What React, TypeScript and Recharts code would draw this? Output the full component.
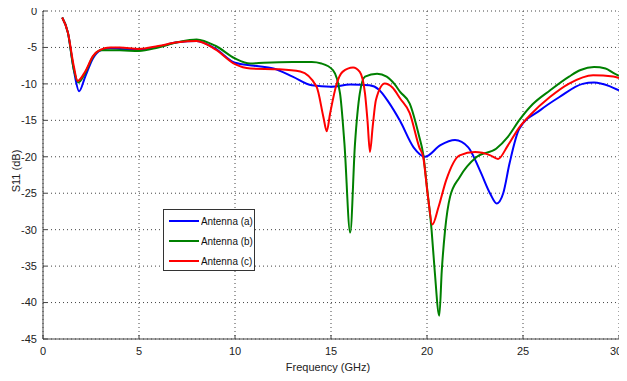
import React from 'react';
import { LineChart, Line, XAxis, YAxis, CartesianGrid, Label } from 'recharts';

const seriesNames = ['Antenna (a)', 'Antenna (b)', 'Antenna (c)'];
const seriesColors = ['#0000ff', '#008000', '#ff0000'];
const xTicks = [0, 5, 10, 15, 20, 25, 30];
const yTicks = [-45, -40, -35, -30, -25, -20, -15, -10, -5, 0];

const freqA = [1.0, 1.3, 1.6, 1.88, 2.2, 2.6, 3.0, 3.5, 4.0, 5.0, 6.0, 7.0, 8.0, 9.0, 10.0, 11.0, 12.0, 13.0, 14.0, 15.0, 16.0, 17.0, 17.5, 18.0, 18.6, 19.3, 19.9, 20.7, 21.46, 22.15, 22.76, 23.3, 23.63, 23.97, 24.3, 24.8, 25.9, 26.9, 28.1, 28.7, 29.5, 30.0];
const s11A = [-0.9, -3.0, -8.0, -11.0, -9.0, -6.5, -5.4, -5.1, -5.2, -5.3, -4.9, -4.3, -4.1, -5.2, -7.1, -7.5, -7.9, -9.0, -10.2, -10.4, -10.1, -10.2, -10.8, -12.5, -15.1, -18.7, -20.0, -18.4, -17.7, -18.7, -21.9, -25.1, -26.4, -25.0, -20.9, -16.2, -13.6, -11.8, -10.0, -9.8, -10.3, -10.9];

const freqB = [1.0, 1.3, 1.6, 1.85, 2.2, 2.6, 3.0, 4.0, 5.0, 6.0, 7.0, 8.0, 9.0, 10.0, 10.8, 11.5, 13.0, 14.0, 14.5, 15.1, 15.47, 15.7, 16.0, 16.25, 16.5, 16.77, 17.4, 17.9, 18.3, 18.6, 19.1, 19.6, 19.8, 20.0, 20.24, 20.4, 20.64, 20.77, 20.94, 21.2, 21.7, 22.6, 23.6, 24.2, 24.8, 25.5, 26.4, 27.4, 28.0, 28.7, 29.3, 29.7, 30.0];
const s11B = [-0.9, -3.0, -8.0, -9.8, -8.5, -6.3, -5.4, -5.4, -5.5, -5.0, -4.3, -3.9, -4.8, -6.5, -7.2, -7.1, -7.0, -7.0, -7.2, -8.1, -11.3, -18.2, -30.4, -18.2, -11.3, -9.0, -8.6, -9.0, -10.0, -11.1, -12.7, -17.3, -19.6, -24.2, -30.1, -35.6, -41.8, -35.6, -30.1, -25.5, -22.8, -20.0, -18.9, -17.3, -15.0, -12.8, -10.9, -9.0, -8.1, -7.7, -7.9, -8.5, -8.9];

const freqC = [1.0, 1.3, 1.6, 1.8, 2.2, 2.6, 3.0, 3.5, 4.0, 5.0, 6.0, 7.0, 8.0, 9.0, 10.0, 10.8, 12.3, 13.4, 14.25, 14.6, 14.78, 14.95, 15.3, 15.6, 16.15, 16.5, 16.77, 16.9, 17.03, 17.17, 17.34, 17.8, 18.2, 18.6, 19.1, 19.6, 19.8, 20.05, 20.28, 20.6, 21.0, 21.7, 22.5, 23.3, 23.7, 24.2, 24.8, 25.4, 26.4, 27.4, 28.65, 29.7, 30.0];
const s11C = [-0.9, -3.0, -7.5, -9.6, -8.3, -6.2, -5.3, -5.0, -5.0, -5.2, -4.8, -4.3, -4.1, -5.3, -7.3, -7.9, -8.0, -8.3, -10.4, -14.5, -16.5, -14.1, -9.95, -8.35, -7.75, -8.35, -11.3, -15.0, -19.35, -15.9, -12.2, -9.95, -10.5, -12.0, -14.0, -18.7, -20.0, -25.5, -29.3, -26.9, -23.2, -19.8, -19.35, -19.8, -20.3, -18.5, -16.0, -14.2, -11.8, -9.95, -8.8, -9.0, -9.2];

const toData = (f: number[], s: number[]) => f.map((x, i) => ({ f: x, s: s[i] }));
const series = [toData(freqA, s11A), toData(freqB, s11B), toData(freqC, s11C)];

const FONT = '"Liberation Sans", Arial, sans-serif';

const XTick = (props: any) => {
  const { x, y, payload, index } = props;
  const last = index === xTicks.length - 1;
  return (
    <text x={x + (last ? -3 : 0)} y={y + 8} textAnchor="middle" fontFamily={FONT} fontSize={11} fill="#222">
      {String(payload.value)}
    </text>
  );
};

const YLabel = (props: any) => {
  const vb = props.viewBox || { x: 0, y: 0, width: 0, height: 0 };
  const cx = vb.x + 16;
  const cy = vb.y + vb.height / 2 - 4;
  return (
    <text x={cx} y={cy} transform={`rotate(-90, ${cx}, ${cy})`} textAnchor="middle" dominantBaseline="central" fontFamily={FONT} fontSize={11} fill="#222">
      S11 (dB)
    </text>
  );
};

const XLabel = (props: any) => {
  const vb = props.viewBox || { x: 0, y: 0, width: 0, height: 0 };
  return (
    <text x={vb.x + vb.width / 2 - 3} y={vb.y + 32} textAnchor="middle" fontFamily={FONT} fontSize={11} fill="#222">
      Frequency (GHz)
    </text>
  );
};

const LegendBox = () => (
  <div style={{ position: 'absolute', left: 163, top: 209, background: '#fff', border: '1px solid #333', width: 92, height: 62, boxSizing: 'border-box', fontFamily: FONT, fontSize: 11, color: '#111', paddingTop: 1 }}>
    {seriesNames.map((n, i) => (
      <div key={n} style={{ display: 'flex', alignItems: 'center', height: 20, whiteSpace: 'nowrap' }}>
        <div style={{ width: 30, height: 2, background: seriesColors[i], marginLeft: 5, marginRight: 2, flexShrink: 0 }} />
        <span style={{ display: 'inline-block', transform: 'scaleX(0.9)', transformOrigin: 'left center' }}>{n}</span>
      </div>
    ))}
  </div>
);

export default function App() {
  return (
    <div style={{ position: 'relative', width: 627, height: 381, margin: -8 }}>
      <LineChart width={627} height={381} margin={{ top: 11, right: 8, bottom: 0, left: 0 }}>
        <CartesianGrid stroke="#444" strokeDasharray="1 3" horizontal vertical />
        <XAxis
          dataKey="f"
          type="number"
          domain={[0, 30]}
          ticks={xTicks}
          allowDataOverflow
          interval={0}
          height={42}
          tickSize={-4}
          tickMargin={12}
          stroke="#444"
          tick={<XTick />}
          label={<Label content={XLabel} />}
        />
        <YAxis
          type="number"
          domain={[-45, 0]}
          ticks={yTicks}
          allowDataOverflow
          interval={0}
          width={43}
          tickSize={-4}
          tickMargin={10}
          stroke="#444"
          tick={{ fill: '#222', fontSize: 11, fontFamily: FONT }}
          label={<Label content={YLabel} />}
        />
        {series.map((d, i) => (
          <Line
            key={seriesNames[i]}
            data={d}
            dataKey="s"
            name={seriesNames[i]}
            type="monotone"
            stroke={seriesColors[i]}
            strokeWidth={2}
            dot={false}
            isAnimationActive={false}
          />
        ))}
      </LineChart>
      <LegendBox />
    </div>
  );
}
